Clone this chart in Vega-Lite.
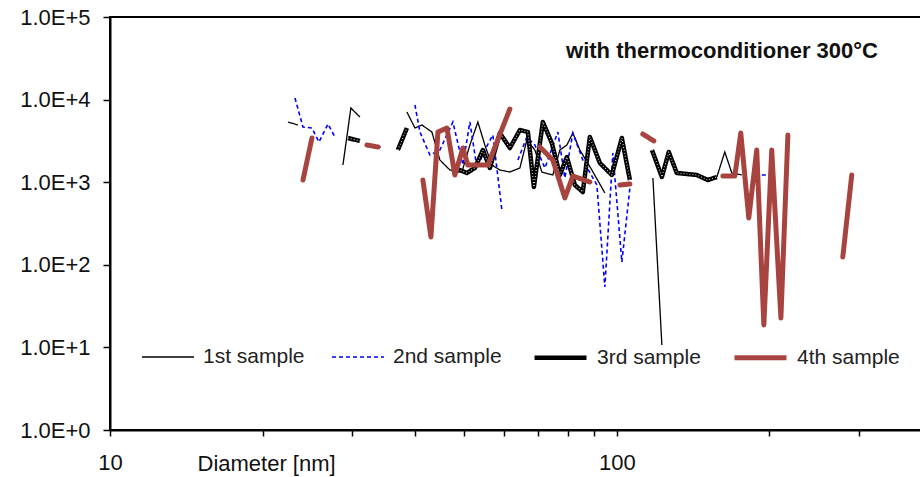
{
  "$schema": "https://vega.github.io/schema/vega-lite/v6.json",
  "width": 812,
  "height": 413,
  "autosize": {"type": "none"},
  "padding": {"left": 110, "top": 17, "right": 0, "bottom": 47},
  "background": "white",
  "config": {
    "view": {"stroke": "black", "strokeWidth": 2},
    "font": "Liberation Sans"
  },
  "title": {
    "text": "with thermoconditioner 300°C",
    "anchor": "end",
    "frame": "group",
    "orient": "top",
    "offset": -57,
    "dx": -44,
    "fontSize": 22,
    "fontWeight": "bold",
    "font": "Liberation Sans",
    "color": "#111"
  },
  "data": {
    "values": [
      {"s": "1st sample", "seg": "1a", "d": 22.44, "n": 5356},
      {"s": "1st sample", "seg": "1a", "d": 23.49, "n": 4926},
      {"s": "1st sample", "seg": "1b", "d": 28.81, "n": 1615},
      {"s": "1st sample", "seg": "1b", "d": 29.87, "n": 7912},
      {"s": "1st sample", "seg": "1b", "d": 31.12, "n": 6156},
      {"s": "1st sample", "seg": "1c", "d": 38.53, "n": 7079},
      {"s": "1st sample", "seg": "1c", "d": 39.96, "n": 4532},
      {"s": "1st sample", "seg": "1c", "d": 41.25, "n": 4926},
      {"s": "1st sample", "seg": "1c", "d": 43.16, "n": 4053},
      {"s": "1st sample", "seg": "1c", "d": 44.76, "n": 1857},
      {"s": "1st sample", "seg": "1c", "d": 46.84, "n": 1405},
      {"s": "1st sample", "seg": "1c", "d": 49.46, "n": 1329},
      {"s": "1st sample", "seg": "1c", "d": 51.29, "n": 2821},
      {"s": "1st sample", "seg": "1c", "d": 53.19, "n": 5356},
      {"s": "1st sample", "seg": "1c", "d": 54.90, "n": 2821},
      {"s": "1st sample", "seg": "1c", "d": 56.68, "n": 1615},
      {"s": "1st sample", "seg": "1c", "d": 58.77, "n": 1405},
      {"s": "1st sample", "seg": "1c", "d": 61.51, "n": 1329},
      {"s": "1st sample", "seg": "1c", "d": 64.37, "n": 1486},
      {"s": "1st sample", "seg": "1c", "d": 66.45, "n": 3243},
      {"s": "1st sample", "seg": "1c", "d": 68.91, "n": 2454},
      {"s": "1st sample", "seg": "1c", "d": 71.13, "n": 1329},
      {"s": "1st sample", "seg": "1c", "d": 74.76, "n": 1223},
      {"s": "1st sample", "seg": "1c", "d": 77.20, "n": 2454},
      {"s": "1st sample", "seg": "1c", "d": 79.69, "n": 2821},
      {"s": "1st sample", "seg": "1c", "d": 81.89, "n": 3941},
      {"s": "1st sample", "seg": "1c", "d": 84.53, "n": 2454},
      {"s": "1st sample", "seg": "1c", "d": 89.27, "n": 1405},
      {"s": "1st sample", "seg": "1c", "d": 94.70, "n": 740},
      {"s": "1st sample", "seg": "1d", "d": 117.8, "n": 1124},
      {"s": "1st sample", "seg": "1d", "d": 122.7, "n": 10.7},
      {"s": "1st sample", "seg": "1e", "d": 157.5, "n": 1156},
      {"s": "1st sample", "seg": "1e", "d": 163.3, "n": 2321},
      {"s": "1st sample", "seg": "1e", "d": 168.6, "n": 1293},
      {"s": "1st sample", "seg": "1e", "d": 176.4, "n": 1223},

      {"s": "2nd sample", "seg": "2a", "d": 23.17, "n": 10457},
      {"s": "2nd sample", "seg": "2a", "d": 24.03, "n": 4660},
      {"s": "2nd sample", "seg": "2a", "d": 25.03, "n": 4532},
      {"s": "2nd sample", "seg": "2a", "d": 25.84, "n": 3067},
      {"s": "2nd sample", "seg": "2a", "d": 26.92, "n": 5066},
      {"s": "2nd sample", "seg": "2a", "d": 27.79, "n": 3525},
      {"s": "2nd sample", "seg": "2b", "d": 33.62, "n": 2743},
      {"s": "2nd sample", "seg": "2b", "d": 34.56, "n": 2594},
      {"s": "2nd sample", "seg": "2c", "d": 39.96, "n": 8603},
      {"s": "2nd sample", "seg": "2c", "d": 40.88, "n": 4053},
      {"s": "2nd sample", "seg": "2c", "d": 42.77, "n": 2135},
      {"s": "2nd sample", "seg": "2c", "d": 44.76, "n": 2454},
      {"s": "2nd sample", "seg": "2c", "d": 47.48, "n": 5356},
      {"s": "2nd sample", "seg": "2c", "d": 49.69, "n": 1615},
      {"s": "2nd sample", "seg": "2c", "d": 51.29, "n": 5356},
      {"s": "2nd sample", "seg": "2c", "d": 52.96, "n": 1486},
      {"s": "2nd sample", "seg": "2c", "d": 54.90, "n": 2454},
      {"s": "2nd sample", "seg": "2c", "d": 56.93, "n": 3728},
      {"s": "2nd sample", "seg": "2c", "d": 59.32, "n": 461},
      {"s": "2nd sample", "seg": "2d", "d": 63.79, "n": 1857},
      {"s": "2nd sample", "seg": "2d", "d": 66.45, "n": 3525},
      {"s": "2nd sample", "seg": "2d", "d": 68.91, "n": 2821},
      {"s": "2nd sample", "seg": "2d", "d": 72.11, "n": 1486},
      {"s": "2nd sample", "seg": "2d", "d": 76.49, "n": 4053},
      {"s": "2nd sample", "seg": "2d", "d": 78.97, "n": 1124},
      {"s": "2nd sample", "seg": "2d", "d": 81.89, "n": 3941},
      {"s": "2nd sample", "seg": "2d", "d": 85.67, "n": 1857},
      {"s": "2nd sample", "seg": "2d", "d": 91.33, "n": 925},
      {"s": "2nd sample", "seg": "2d", "d": 94.70, "n": 53.8},
      {"s": "2nd sample", "seg": "2d", "d": 98.20, "n": 2257},
      {"s": "2nd sample", "seg": "2d", "d": 102.3, "n": 108},
      {"s": "2nd sample", "seg": "2d", "d": 106.1, "n": 851},
      {"s": "2nd sample", "seg": "2e", "d": 193.2, "n": 1223},
      {"s": "2nd sample", "seg": "2e", "d": 200.4, "n": 1223},

      {"s": "3rd sample", "seg": "3a", "d": 29.47, "n": 3429},
      {"s": "3rd sample", "seg": "3a", "d": 31.12, "n": 3155},
      {"s": "3rd sample", "seg": "3b", "d": 36.98, "n": 2454},
      {"s": "3rd sample", "seg": "3b", "d": 38.53, "n": 4532},
      {"s": "3rd sample", "seg": "3c", "d": 47.27, "n": 1329},
      {"s": "3rd sample", "seg": "3c", "d": 49.01, "n": 1405},
      {"s": "3rd sample", "seg": "3c", "d": 50.59, "n": 1293},
      {"s": "3rd sample", "seg": "3c", "d": 52.47, "n": 1486},
      {"s": "3rd sample", "seg": "3c", "d": 54.41, "n": 2454},
      {"s": "3rd sample", "seg": "3c", "d": 56.17, "n": 1486},
      {"s": "3rd sample", "seg": "3c", "d": 58.77, "n": 3941},
      {"s": "3rd sample", "seg": "3c", "d": 61.51, "n": 2594},
      {"s": "3rd sample", "seg": "3c", "d": 64.37, "n": 4285},
      {"s": "3rd sample", "seg": "3c", "d": 66.75, "n": 4053},
      {"s": "3rd sample", "seg": "3c", "d": 68.60, "n": 875},
      {"s": "3rd sample", "seg": "3c", "d": 71.45, "n": 5356},
      {"s": "3rd sample", "seg": "3c", "d": 74.42, "n": 2983},
      {"s": "3rd sample", "seg": "3c", "d": 77.20, "n": 1223},
      {"s": "3rd sample", "seg": "3c", "d": 79.69, "n": 2019},
      {"s": "3rd sample", "seg": "3c", "d": 82.63, "n": 925},
      {"s": "3rd sample", "seg": "3c", "d": 85.67, "n": 761},
      {"s": "3rd sample", "seg": "3c", "d": 88.46, "n": 3525},
      {"s": "3rd sample", "seg": "3c", "d": 92.57, "n": 1708},
      {"s": "3rd sample", "seg": "3c", "d": 97.75, "n": 1223},
      {"s": "3rd sample", "seg": "3c", "d": 102.3, "n": 3429},
      {"s": "3rd sample", "seg": "3c", "d": 106.1, "n": 1063},
      {"s": "3rd sample", "seg": "3d", "d": 117.3, "n": 2454},
      {"s": "3rd sample", "seg": "3d", "d": 122.7, "n": 1156},
      {"s": "3rd sample", "seg": "3d", "d": 126.6, "n": 2321},
      {"s": "3rd sample", "seg": "3d", "d": 131.3, "n": 1293},
      {"s": "3rd sample", "seg": "3d", "d": 143.8, "n": 1223},
      {"s": "3rd sample", "seg": "3d", "d": 151.2, "n": 1063},
      {"s": "3rd sample", "seg": "3d", "d": 157.5, "n": 1156},

      {"s": "4th sample", "seg": "4a", "d": 24.03, "n": 1063},
      {"s": "4th sample", "seg": "4a", "d": 25.03, "n": 3429},
      {"s": "4th sample", "seg": "4b", "d": 32.13, "n": 2821},
      {"s": "4th sample", "seg": "4b", "d": 33.78, "n": 2669},
      {"s": "4th sample", "seg": "4c", "d": 41.43, "n": 1063},
      {"s": "4th sample", "seg": "4c", "d": 42.97, "n": 217},
      {"s": "4th sample", "seg": "4c", "d": 44.36, "n": 4053},
      {"s": "4th sample", "seg": "4c", "d": 46.21, "n": 4532},
      {"s": "4th sample", "seg": "4c", "d": 47.91, "n": 1223},
      {"s": "4th sample", "seg": "4c", "d": 49.69, "n": 2594},
      {"s": "4th sample", "seg": "4c", "d": 50.82, "n": 1615},
      {"s": "4th sample", "seg": "4c", "d": 55.66, "n": 1615},
      {"s": "4th sample", "seg": "4c", "d": 61.51, "n": 7694},
      {"s": "4th sample", "seg": "4d", "d": 70.48, "n": 2669},
      {"s": "4th sample", "seg": "4d", "d": 74.76, "n": 1857},
      {"s": "4th sample", "seg": "4d", "d": 78.97, "n": 644},
      {"s": "4th sample", "seg": "4d", "d": 81.89, "n": 1189},
      {"s": "4th sample", "seg": "4d", "d": 88.46, "n": 1006},
      {"s": "4th sample", "seg": "4e", "d": 101.4, "n": 925},
      {"s": "4th sample", "seg": "4e", "d": 106.1, "n": 951},
      {"s": "4th sample", "seg": "4f", "d": 112.5, "n": 3833},
      {"s": "4th sample", "seg": "4f", "d": 118.3, "n": 3155},
      {"s": "4th sample", "seg": "4g", "d": 161.9, "n": 1189},
      {"s": "4th sample", "seg": "4g", "d": 170.9, "n": 1189},
      {"s": "4th sample", "seg": "4g", "d": 175.6, "n": 3941},
      {"s": "4th sample", "seg": "4g", "d": 182.1, "n": 369},
      {"s": "4th sample", "seg": "4g", "d": 188.8, "n": 2454},
      {"s": "4th sample", "seg": "4g", "d": 195.0, "n": 18.7},
      {"s": "4th sample", "seg": "4g", "d": 202.1, "n": 2454},
      {"s": "4th sample", "seg": "4g", "d": 210.7, "n": 22.7},
      {"s": "4th sample", "seg": "4g", "d": 217.5, "n": 3725},
      {"s": "4th sample", "seg": "4h", "d": 279.1, "n": 124},
      {"s": "4th sample", "seg": "4h", "d": 290.7, "n": 1223}
    ]
  },
  "encoding": {
    "x": {
      "field": "d",
      "type": "quantitative",
      "scale": {"type": "log", "domain": [10, 400], "nice": false},
      "axis": {
        "values": [10, 20, 30, 40, 50, 60, 70, 80, 90, 100, 200, 300],
        "labelExpr": "datum.value == 10 || datum.value == 100 ? datum.label : ''",
        "grid": false,
        "domainColor": "black",
        "domainWidth": 2,
        "tickColor": "black",
        "tickWidth": 1.5,
        "tickSize": 6,
        "labelPadding": 16,
        "labelFont": "Liberation Sans",
        "labelFontSize": 22,
        "labelColor": "#111",
        "labelFlush": false,
        "labelOverlap": false,
        "title": "Diameter [nm]",
        "titleX": 87,
        "titleY": 33,
        "titleAlign": "left",
        "titleBaseline": "middle",
        "titleFont": "Liberation Sans",
        "titleFontSize": 22,
        "titleFontWeight": "normal",
        "titleColor": "#111"
      }
    },
    "y": {
      "field": "n",
      "type": "quantitative",
      "scale": {"type": "log", "domain": [1, 100000], "nice": false},
      "axis": {
        "values": [1, 10, 100, 1000, 10000, 100000],
        "labelExpr": "'1.0E+' + round(log(datum.value) / LN10)",
        "grid": false,
        "domainColor": "black",
        "domainWidth": 2,
        "tickColor": "black",
        "tickWidth": 1.5,
        "tickSize": 7,
        "labelPadding": 13,
        "labelFont": "Liberation Sans",
        "labelFontSize": 22,
        "labelColor": "#111",
        "labelFlush": false,
        "labelOverlap": false,
        "title": null
      }
    },
    "color": {
      "field": "s",
      "type": "ordinal",
      "scale": {
        "type": "ordinal",
        "domain": ["1st sample", "2nd sample", "3rd sample", "4th sample"],
        "range": ["#000000", "#0000FF", "#000000", "#A8443F"]
      },
      "legend": {
        "title": null,
        "orient": "none",
        "legendX": 31,
        "legendY": 312,
        "direction": "horizontal",
        "symbolType": "stroke",
        "symbolSize": 2704,
        "labelFont": "Liberation Sans",
        "labelFontSize": 21,
        "labelColor": "#222",
        "labelOffset": 8,
        "columnPadding": 23
      }
    },
    "strokeDash": {
      "field": "s",
      "type": "ordinal",
      "scale": {
        "type": "ordinal",
        "domain": ["1st sample", "2nd sample", "3rd sample", "4th sample"],
        "range": [[1, 0], [4, 3], [1, 0], [1, 0]]
      },
      "legend": {
        "title": null,
        "orient": "none",
        "legendX": 31,
        "legendY": 312,
        "direction": "horizontal",
        "symbolType": "stroke",
        "symbolSize": 2704,
        "labelFont": "Liberation Sans",
        "labelFontSize": 21,
        "labelColor": "#222",
        "labelOffset": 8,
        "columnPadding": 23
      }
    },
    "strokeWidth": {
      "field": "s",
      "type": "ordinal",
      "scale": {
        "type": "ordinal",
        "domain": ["1st sample", "2nd sample", "3rd sample", "4th sample"],
        "range": [1.3, 1.6, 4.5, 5]
      },
      "legend": {
        "title": null,
        "orient": "none",
        "legendX": 31,
        "legendY": 312,
        "direction": "horizontal",
        "symbolType": "stroke",
        "symbolSize": 2704,
        "labelFont": "Liberation Sans",
        "labelFontSize": 21,
        "labelColor": "#222",
        "labelOffset": 8,
        "columnPadding": 23
      }
    },
    "detail": {"field": "seg", "type": "nominal"}
  },
  "layer": [
    {
      "transform": [{"filter": "datum.s == '1st sample'"}],
      "mark": {"type": "line"}
    },
    {
      "transform": [{"filter": "datum.s == '2nd sample'"}],
      "mark": {"type": "line"}
    },
    {
      "transform": [{"filter": "datum.s == '3rd sample'"}],
      "mark": {"type": "line", "strokeJoin": "round"}
    },
    {
      "transform": [{"filter": "datum.s == '3rd sample'"}],
      "mark": {"type": "line", "strokeJoin": "round"},
      "encoding": {
        "color": {"value": "white"},
        "strokeDash": {"value": [0.8, 2.2]},
        "strokeWidth": {"value": 1.1}
      }
    },
    {
      "transform": [{"filter": "datum.s == '4th sample'"}],
      "mark": {"type": "line", "strokeJoin": "round", "strokeCap": "round"}
    }
  ]
}
